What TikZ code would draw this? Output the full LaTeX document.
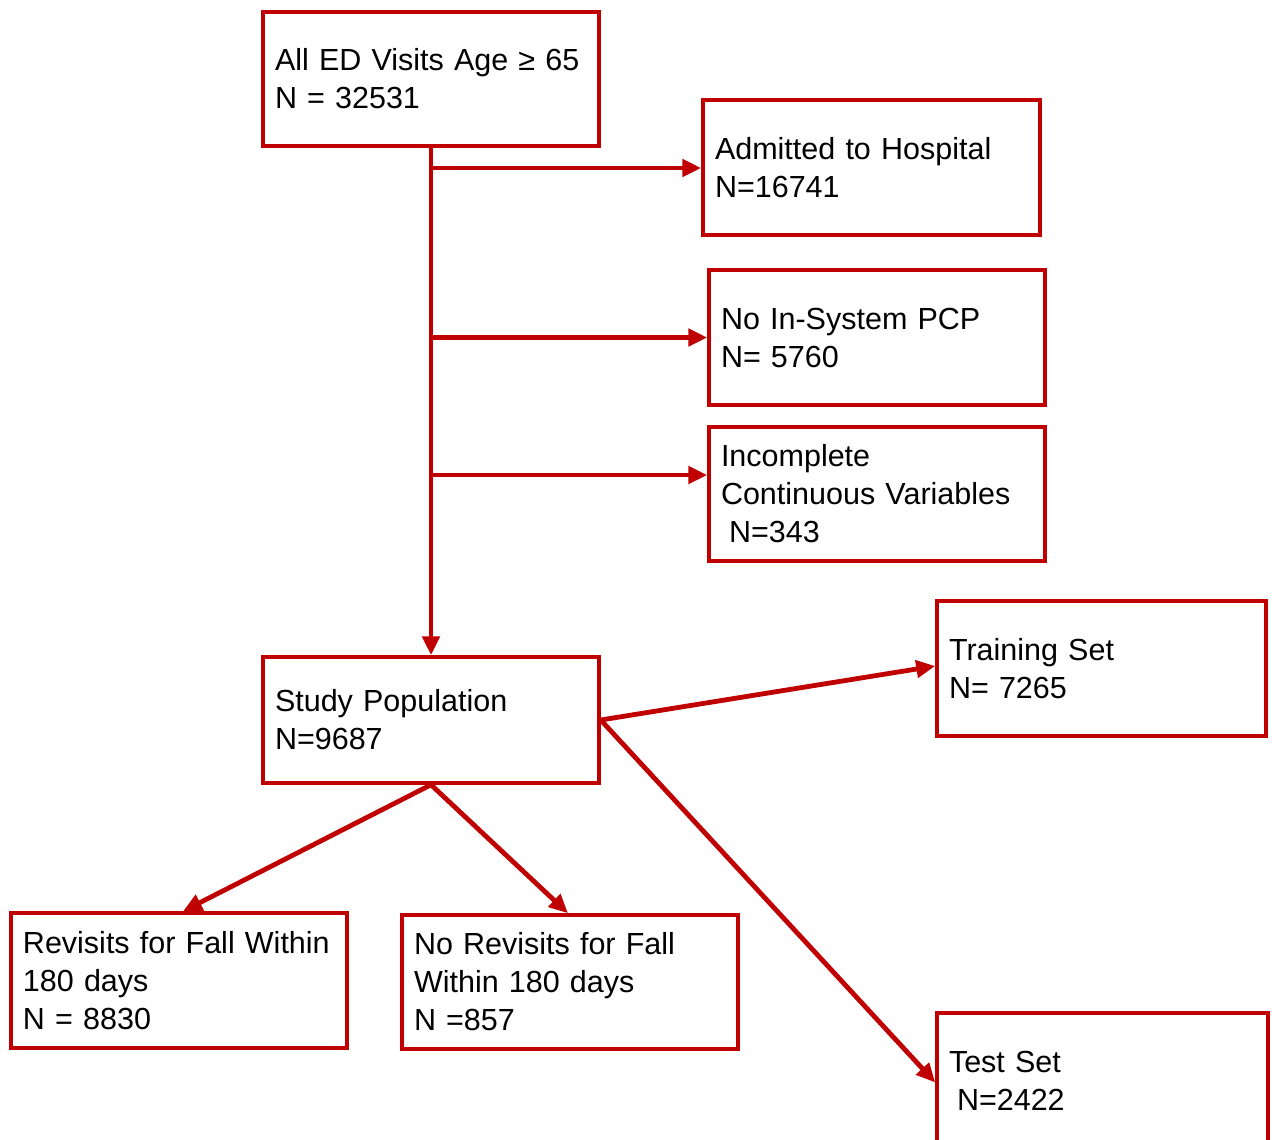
\documentclass[tikz,border=0pt]{standalone}
\usepackage{fontspec}
\setmainfont{Liberation Sans}
\usetikzlibrary{arrows.meta}
\definecolor{fred}{RGB}{192,0,0}
\tikzset{
  fbox/.style={draw=fred, line width=3.5pt, rectangle, align=left, inner xsep=12pt, inner ysep=0pt,
    font=\fontsize{30.5}{38}\selectfont, text=black},
  conn/.style={draw=fred, line width=4.8pt, -{Triangle[length=19pt,width=17pt]}}
}
\begin{document}
\begin{tikzpicture}[x=1pt,y=-1pt]
\useasboundingbox (0,0) rectangle (1272,1140);
\clip (0,0) rectangle (1272,1140);
\node[fbox, text width=312pt, minimum width=336pt, minimum height=134pt] (a1) at (431,79) {All ED Visits Age ≥ 65\\N = 32531};
\node[fbox, text width=313pt, minimum width=337pt, minimum height=135pt] (adm) at (871.5,167.5) {Admitted to Hospital\\N=16741};
\node[fbox, text width=312pt, minimum width=336pt, minimum height=135pt] (pcp) at (877,337.5) {No In-System PCP\\N= 5760};
\node[fbox, text width=312pt, minimum width=336pt, minimum height=134pt] (inc) at (877,494) {Incomplete\\Continuous Variables\\\hspace*{8pt}N=343};
\node[fbox, text width=312pt, minimum width=336pt, minimum height=126pt] (study) at (431,720) {Study Population\\N=9687};
\node[fbox, text width=305pt, minimum width=329pt, minimum height=135pt] (tr) at (1101.5,668.5) {Training Set\\N= 7265};
\node[fbox, text width=312pt, minimum width=336pt, minimum height=135pt] (rev) at (179,980.5) {Revisits for Fall Within\\180 days\\N = 8830};
\node[fbox, text width=312pt, minimum width=336pt, minimum height=134pt] (norev) at (570,982) {No Revisits for Fall\\Within 180 days\\N =857};
\node[fbox, text width=307pt, minimum width=331pt, minimum height=135pt] (test) at (1102.5,1080.5) {Test Set\\\hspace*{8pt}N=2422};
\coordinate (b1) at (431,168);
\coordinate (b2) at (431,337.5);
\coordinate (b3) at (431,475);
\draw[conn] (a1.south) -- (study.north);
\draw[conn] (b1) -- (b1 -| adm.west);
\draw[conn] (b2) -- (b2 -| pcp.west);
\draw[conn] (b3) -- (b3 -| inc.west);
\draw[conn] (study.east) -- ([yshift=2.5pt]tr.west);
\draw[conn] (study.east) -- ([yshift=-2pt]test.west);
\draw[conn] (study.south) -- ([xshift=4pt]rev.north);
\draw[conn] (study.south) -- ([xshift=-2pt]norev.north);
\end{tikzpicture}
\end{document}
